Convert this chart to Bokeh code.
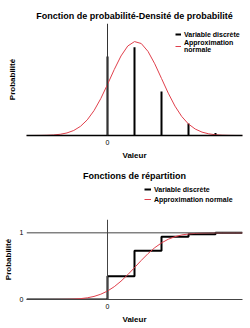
from bokeh.plotting import figure
from bokeh.models import Span, Legend, LegendItem, FixedTicker
from bokeh.layouts import column
from bokeh.embed import file_html
from bokeh.resources import INLINE

# ---- data ----
values = [0, 1, 2, 3, 4]
pmf = [0.348, 0.388, 0.194, 0.053, 0.011]

step_x = [-3, 0, 1, 2, 3, 4, 5]
step_y = [0, 0.35, 0.73, 0.94, 0.978, 1.0, 1.0]

curve_x = [-3, -2.75, -2.5, -2.25, -2, -1.75, -1.5, -1.25, -1, -0.75, -0.5, -0.25,
           0, 0.25, 0.5, 0.75, 1, 1.25, 1.5, 1.75, 2, 2.25, 2.5, 2.75, 3, 3.25,
           3.5, 3.75, 4, 4.25, 4.5, 4.75, 5]
density = [0, 0.0001, 0.0004, 0.001, 0.0024, 0.0054, 0.0113, 0.0221, 0.0404, 0.0688,
           0.1094, 0.1623, 0.2248, 0.2904, 0.3501, 0.3939, 0.4134, 0.4049, 0.3701,
           0.3156, 0.2511, 0.1864, 0.1292, 0.0835, 0.0504, 0.0284, 0.0149, 0.0073,
           0.0033, 0.0014, 0.0006, 0.0002, 0.0001]
cdf_curve = [0, 0, 0.0001, 0.0002, 0.0005, 0.0012, 0.0028, 0.0062, 0.0129, 0.0252,
             0.046, 0.0788, 0.127, 0.192, 0.275, 0.372, 0.478, 0.586, 0.688, 0.777,
             0.849, 0.904, 0.942, 0.968, 0.983, 0.992, 0.996, 0.9983, 0.9993, 0.9997,
             0.9999, 1.0, 1.0]

title_top = "Fonction de probabilité-Densité de probabilité"
title_bottom = "Fonctions de répartition"
label_discrete = "Variable discrète"
label_normal_top = "Approximation\nnormale"
label_normal_bottom = "Approximation normale"
x_label = "Valeur"
y_label = "Probabilité"

FONT = "Liberation Sans"
RED = "#e0404c"
GRAY = "#444444"


def style_title(p, text, standoff):
    p.title.text = text
    p.title.align = "center"
    p.title.text_font = FONT
    p.title.text_font_size = "9px"
    p.title.text_font_style = "bold"
    p.title.text_color = "black"
    p.title.standoff = standoff


def base_fig(y_range, height, top_border, left_border, title=None):
    kw = {} if title is not None else {"title": None}
    p = figure(width=250, height=height, x_range=(-3, 5), y_range=y_range,
               output_backend="svg", toolbar_location=None,
               min_border_left=left_border, min_border_right=8,
               min_border_top=top_border, min_border_bottom=29, **kw)
    if title is not None:
        style_title(p, title, 6)
    p.grid.visible = False
    p.outline_line_color = None
    for ax in (p.xaxis[0], p.yaxis[0]):
        ax.major_tick_out = 0
        ax.major_tick_in = 0
        ax.minor_tick_out = 0
        ax.minor_tick_in = 0
        ax.axis_label_text_font = FONT
        ax.axis_label_text_font_size = "8px"
        ax.axis_label_text_font_style = "bold"
        ax.axis_label_text_color = "black"
        ax.major_label_text_font = FONT
        ax.major_label_text_font_size = "7px"
        ax.major_label_text_color = "black"
    p.xaxis.axis_label = x_label
    p.yaxis.axis_label = y_label
    p.xaxis.ticker = FixedTicker(ticks=[0])
    p.xaxis.major_label_standoff = 4
    p.xaxis.axis_label_standoff = 3
    return p


# ---- top: PMF / density ----
p1 = base_fig((0, 0.493), 164, 23, 21, title_top)
p1.yaxis.ticker = FixedTicker(ticks=[0])
p1.yaxis.major_label_overrides = {0: ""}
p1.yaxis.axis_line_color = None
p1.yaxis.major_label_standoff = 0
p1.yaxis.axis_label_standoff = 10
p1.xaxis.axis_line_color = "black"
p1.xaxis.axis_line_width = 1.3
p1.add_layout(Span(location=0, dimension="height", line_color="#333333", line_width=1))
bars = p1.segment(x0=values, y0=[0] * len(values), x1=values, y1=pmf,
                  line_color="black", line_width=2)
dens = p1.line(curve_x, density, line_color=RED, line_width=1)
leg1 = Legend(items=[LegendItem(label=label_discrete, renderers=[bars]),
                     LegendItem(label=label_normal_top, renderers=[dens])],
              location=(149, 82), padding=0, margin=0, spacing=1,
              border_line_color=None, background_fill_alpha=0,
              glyph_width=6, glyph_height=8, label_height=8, label_standoff=3,
              label_text_font=FONT, label_text_font_size="7px",
              label_text_font_style="bold", label_text_color="black")
p1.add_layout(leg1)

# ---- bottom title + legend strip (its key lines lie outside its own view) ----
pl = figure(width=250, height=55, x_range=(-3, 5), y_range=(2, 3),
            output_backend="svg", toolbar_location=None,
            min_border_left=25, min_border_right=8, min_border_top=18,
            min_border_bottom=0)
style_title(pl, title_bottom, 4)
pl.axis.visible = False
pl.grid.visible = False
pl.outline_line_color = None
key_step = pl.step(step_x, step_y, mode="after", line_color="black", line_width=2)
key_cdf = pl.line(curve_x, cdf_curve, line_color=RED, line_width=1)
leg2 = Legend(items=[LegendItem(label=label_discrete, renderers=[key_step]),
                     LegendItem(label=label_normal_bottom, renderers=[key_cdf])],
              location=(118, 15), padding=0, margin=0, spacing=0,
              border_line_color=None, background_fill_alpha=0,
              glyph_width=7, glyph_height=10, label_height=10, label_standoff=3,
              label_text_font=FONT, label_text_font_size="7px",
              label_text_font_style="bold", label_text_color="black")
pl.add_layout(leg2)

# ---- bottom: CDF ----
p2 = base_fig((0, 1.2), 109, 0, 25)
p2.yaxis.ticker = FixedTicker(ticks=[0, 1])
p2.yaxis.axis_line_color = None
p2.yaxis.major_label_standoff = 3
p2.yaxis.axis_label_standoff = 4
p2.xaxis.axis_line_color = GRAY
p2.add_layout(Span(location=0, dimension="height", line_color=GRAY, line_width=1))
p2.add_layout(Span(location=1, dimension="width", line_color=GRAY, line_width=1))
steps = p2.step(step_x, step_y, mode="after", line_color="black", line_width=2)
cdfl = p2.line(curve_x, cdf_curve, line_color=RED, line_width=1)

layout = column(p1, pl, p2, spacing=0)
open("out.html", "w").write(file_html(layout, INLINE))
